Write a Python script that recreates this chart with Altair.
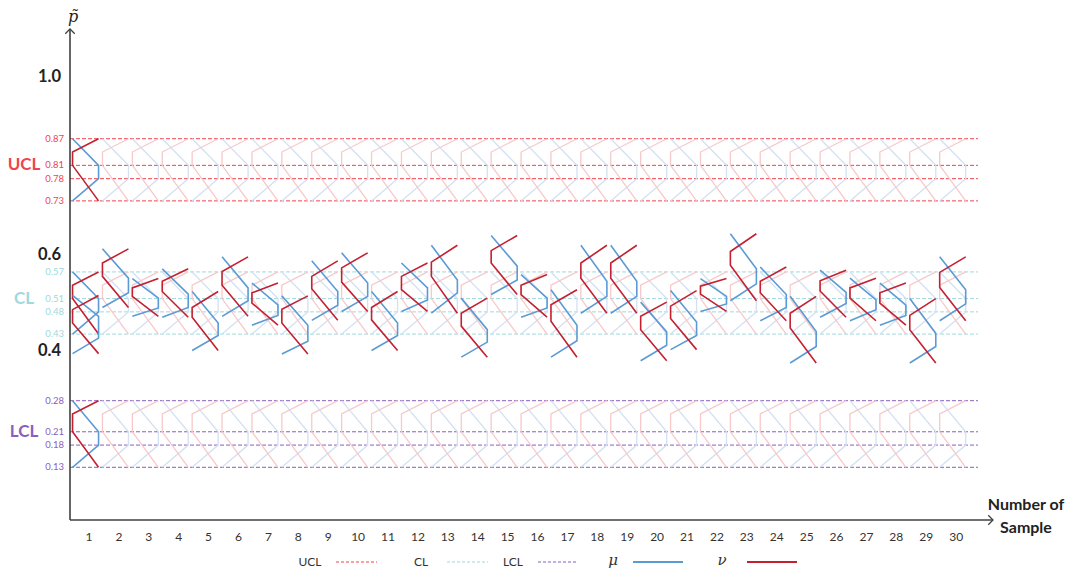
import altair as alt
import pandas as pd

# ---------------- data ----------------
samples = list(range(1, 31))
# neutrosophic glyph of each sample: shared top / bottom, inner breakpoints of mu and nu
top = [0.517, 0.622, 0.555, 0.577, 0.526, 0.604, 0.545, 0.516, 0.595, 0.613,
       0.526, 0.590, 0.630, 0.511, 0.652, 0.564, 0.530, 0.630, 0.630, 0.502,
       0.528, 0.555, 0.656, 0.581, 0.515, 0.574, 0.556, 0.545, 0.510, 0.604]
mu_hi = [0.470, 0.556, 0.511, 0.520, 0.455, 0.534, 0.496, 0.450, 0.526, 0.545,
         0.455, 0.534, 0.552, 0.440, 0.583, 0.511, 0.450, 0.549, 0.549, 0.435,
         0.457, 0.515, 0.577, 0.519, 0.436, 0.524, 0.507, 0.495, 0.432, 0.530]
mu_lo = [0.421, 0.523, 0.489, 0.490, 0.427, 0.505, 0.472, 0.414, 0.495, 0.515,
         0.427, 0.507, 0.523, 0.412, 0.552, 0.489, 0.415, 0.515, 0.515, 0.405,
         0.427, 0.498, 0.543, 0.490, 0.402, 0.499, 0.485, 0.472, 0.402, 0.498]
nu_hi = [0.485, 0.590, 0.534, 0.549, 0.490, 0.571, 0.523, 0.486, 0.560, 0.579,
         0.490, 0.560, 0.592, 0.477, 0.618, 0.540, 0.496, 0.590, 0.590, 0.470,
         0.493, 0.538, 0.616, 0.549, 0.477, 0.550, 0.534, 0.523, 0.472, 0.569]
nu_lo = [0.455, 0.560, 0.515, 0.526, 0.468, 0.540, 0.500, 0.455, 0.532, 0.547,
         0.462, 0.530, 0.560, 0.448, 0.590, 0.519, 0.459, 0.556, 0.556, 0.440,
         0.465, 0.520, 0.585, 0.523, 0.444, 0.527, 0.511, 0.500, 0.440, 0.535]
bottom = [0.386, 0.490, 0.470, 0.468, 0.393, 0.470, 0.450, 0.385, 0.461, 0.481,
          0.393, 0.481, 0.477, 0.378, 0.519, 0.468, 0.378, 0.477, 0.477, 0.370,
          0.395, 0.481, 0.505, 0.460, 0.365, 0.468, 0.460, 0.450, 0.365, 0.460]

# control limits (mu: bottom, lo, hi, top ; nu: bottom, lo, hi, top)
limit_names = ["UCL", "CL", "LCL"]
limit_mu = {"UCL": [0.73, 0.78, 0.81, 0.87], "CL": [0.43, 0.48, 0.51, 0.57], "LCL": [0.13, 0.18, 0.21, 0.28]}
limit_nu = {"UCL": [0.73, 0.81, 0.84, 0.87], "CL": [0.43, 0.51, 0.54, 0.57], "LCL": [0.13, 0.21, 0.25, 0.28]}
limit_lines = {"UCL": [0.87, 0.81, 0.78, 0.73], "CL": [0.57, 0.51, 0.48, 0.43], "LCL": [0.28, 0.21, 0.18, 0.13]}
y_ticks = [0.4, 0.6, 1.0]

# ---------------- styling ----------------
FONT = "Lato"
W, H = 925, 491
X_SCALE = alt.Scale(domain=[0.365, 31.30], nice=False, zero=False)
Y_SCALE = alt.Scale(domain=[0.0113, 1.1171], nice=False, zero=False)
GL, GR = -0.55, 0.32          # glyph left / right offset from the sample position
LINE_START, LINE_END = 0.365, 30.73
C_MU, C_NU = "#5B9BD5", "#C42030"
C_MU_F, C_NU_F = "#D3E1F2", "#F7C9CA"
LINE_COL = {"UCL": "#F0444E", "CL": "#9FD9DC", "LCL": "#8C5EBC"}
LAB_COL = {"UCL": "#EF5560", "CL": "#9ED8DB", "LCL": "#7E4DB0"}
BIG_COL = {"UCL": "#EE2B3B", "CL": "#8ED3D6", "LCL": "#7030A0"}
AX = "#404040"


def glyph(gid, i, b, lo_m, hi_m, t, lo_n, hi_n):
    x0, x1 = i + GL, i + GR
    mu = [(x0, t), (x1, hi_m), (x1, lo_m), (x0, b)]
    nu = [(x1, t), (x0, hi_n), (x0, lo_n), (x1, b)]
    rm = [{"gid": gid, "ord": k, "x": x, "y": y} for k, (x, y) in enumerate(mu)]
    rn = [{"gid": gid, "ord": k, "x": x, "y": y} for k, (x, y) in enumerate(nu)]
    return rm, rn


data_mu, data_nu = [], []
for k, i in enumerate(samples):
    m, n = glyph(f"d{i}", i, bottom[k], mu_lo[k], mu_hi[k], top[k], nu_lo[k], nu_hi[k])
    data_mu += m
    data_nu += n

ref_mu, ref_nu, fad_mu, fad_nu = [], [], [], []
for name in limit_names:
    mb, ml, mh, mt = limit_mu[name]
    nb, nl, nh, nt = limit_nu[name]
    for i in samples:
        m, n = glyph(f"{name}{i}", i, mb, ml, mh, mt, nl, nh)
        if i == 1:
            ref_mu += m
            ref_nu += n
        else:
            fad_mu += m
            fad_nu += n

lines_df = pd.DataFrame([{"grp": g, "v": v, "lab": f"{v:.2f}"} for g in limit_names for v in limit_lines[g]])
big_df = pd.DataFrame([{"grp": g, "v": limit_lines[g][1]} for g in limit_names])
xtick_df = pd.DataFrame({"s": samples, "lab": [str(s) for s in samples]})
ytick_df = pd.DataFrame({"v": y_ticks, "lab": [f"{v:.1f}" for v in y_ticks]})


def glyph_layer(rows, color, width):
    df = pd.DataFrame(rows)
    return alt.Chart(df).mark_line(color=color, strokeWidth=width).encode(
        x=alt.X("x:Q", scale=X_SCALE, axis=None),
        y=alt.Y("y:Q", scale=Y_SCALE, axis=None),
        detail="gid:N",
        order="ord:Q",
    )


grp_color = alt.Color("grp:N", scale=alt.Scale(domain=limit_names, range=[LINE_COL[g] for g in limit_names]), legend=None)
rules = alt.Chart(lines_df).mark_rule(strokeDash=[4, 2], strokeWidth=1).encode(
    x=alt.X(datum=LINE_START, scale=X_SCALE, axis=None),
    x2=alt.X2(datum=LINE_END),
    y=alt.Y("v:Q", scale=Y_SCALE, axis=None),
    color=grp_color,
)
value_labels = alt.Chart(lines_df).mark_text(align="right", baseline="middle", font=FONT, fontSize=9.5).encode(
    x=alt.value(-6),
    y=alt.Y("v:Q", scale=Y_SCALE, axis=None),
    text="lab:N",
    color=alt.Color("grp:N", scale=alt.Scale(domain=limit_names, range=[LAB_COL[g] for g in limit_names]), legend=None),
)
big_labels = alt.Chart(big_df).mark_text(align="center", baseline="middle", font=FONT, fontSize=17, fontWeight="bold").encode(
    x=alt.value(-46),
    y=alt.Y("v:Q", scale=Y_SCALE, axis=None),
    text="grp:N",
    color=alt.Color("grp:N", scale=alt.Scale(domain=limit_names, range=[BIG_COL[g] for g in limit_names]), legend=None),
)
x_ticks = alt.Chart(xtick_df).mark_text(align="center", baseline="middle", font=FONT, fontSize=12, color="#333333").encode(
    x=alt.X("s:Q", scale=X_SCALE, axis=None),
    y=alt.value(H + 17),
    text="lab:N",
)


def ytick_layer(cond, dy):
    return alt.Chart(ytick_df).transform_filter(cond).mark_text(
        align="right", baseline="middle", font=FONT, fontSize=16.5, fontWeight="bold", color="#222222", dy=dy
    ).encode(
        x=alt.value(-9),
        y=alt.Y("v:Q", scale=Y_SCALE, axis=None),
        text="lab:N",
    )


y_tick_hi = ytick_layer("datum.v >= 0.5", -4)
y_tick_lo = ytick_layer("datum.v < 0.5", 4)

one = alt.Data(values=[{}])


def txt(s, px, py, **kw):
    return alt.Chart(one).mark_text(text=s, **kw).encode(x=alt.value(px), y=alt.value(py))


def seg(px1, px2, py, color, dash=None, width=1.5):
    kw = {"color": color, "strokeWidth": width}
    if dash:
        kw["strokeDash"] = dash
    return alt.Chart(one).mark_rule(**kw).encode(x=alt.value(px1), x2=alt.value(px2), y=alt.value(py))


# axes with arrows
y_axis = alt.Chart(one).mark_rule(color=AX, strokeWidth=1.6).encode(x=alt.value(0), y=alt.value(0), y2=alt.value(H))
x_axis = alt.Chart(one).mark_rule(color=AX, strokeWidth=1.6).encode(x=alt.value(0), x2=alt.value(923), y=alt.value(H))
y_arrow = alt.Chart(one).mark_point(shape="M-1,1L0,0L1,1", filled=False, size=90, color=AX, strokeWidth=1.3, opacity=1).encode(
    x=alt.value(0), y=alt.value(0))
x_arrow = alt.Chart(one).mark_point(shape="M-1,-1L0,0L-1,1", filled=False, size=90, color=AX, strokeWidth=1.3, opacity=1).encode(
    x=alt.value(923), y=alt.value(H))

p_label = txt("p\u0303", 3, -12, font="DejaVu Serif", fontStyle="italic", fontSize=16, color="#222222", align="center", baseline="middle")
x_title1 = txt("Number of", 956, H - 15, font=FONT, fontSize=16, fontWeight="bold", color="#222222", align="center", baseline="middle")
x_title2 = txt("Sample", 956, H + 8, font=FONT, fontSize=16, fontWeight="bold", color="#222222", align="center", baseline="middle")

LY = 533
legend = [
    txt("UCL", 240, LY, font=FONT, fontSize=12, color="#333333", align="center", baseline="middle"),
    seg(266, 307, LY, LINE_COL["UCL"], [3, 2], 1.2),
    txt("CL", 351, LY, font=FONT, fontSize=12, color="#333333", align="center", baseline="middle"),
    seg(377, 418, LY, LINE_COL["CL"], [3, 2], 1.2),
    txt("LCL", 443, LY, font=FONT, fontSize=12, color="#333333", align="center", baseline="middle"),
    seg(468, 508, LY, LINE_COL["LCL"], [3, 2], 1.2),
    txt("\u03bc", 543, LY - 2, font="DejaVu Serif", fontStyle="italic", fontSize=15, color="#333333", align="center", baseline="middle"),
    seg(563, 613, LY, C_MU, None, 1.8),
    txt("\u03bd", 652, LY - 2, font="DejaVu Serif", fontStyle="italic", fontSize=15, color="#333333", align="center", baseline="middle"),
    seg(677, 727, LY, C_NU, None, 1.8),
]

chart = alt.layer(
    rules,
    glyph_layer(fad_mu, C_MU_F, 1.3),
    glyph_layer(fad_nu, C_NU_F, 1.3),
    glyph_layer(ref_mu, C_MU, 1.6),
    glyph_layer(ref_nu, C_NU, 1.6),
    glyph_layer(data_mu, C_MU, 1.6),
    glyph_layer(data_nu, C_NU, 1.6),
    value_labels,
    big_labels,
    x_ticks,
    y_tick_hi,
    y_tick_lo,
    y_axis, x_axis, y_arrow, x_arrow,
    p_label, x_title1, x_title2,
    *legend,
).properties(
    width=W,
    height=H,
    padding={"left": 62, "top": 21, "right": 74, "bottom": 50},
    autosize=alt.AutoSizeParams(type="none"),
).configure_view(stroke=None)

chart.save("out.html", embed_options={"renderer": "svg", "actions": False})
